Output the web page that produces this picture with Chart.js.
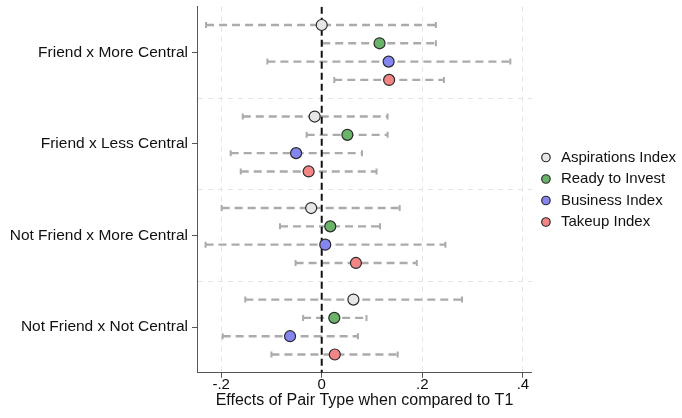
<!DOCTYPE html>
<html>
<head>
<meta charset="utf-8">
<script src="https://cdn.jsdelivr.net/npm/chart.js@4"></script>
<style>
  html, body { margin: 0; padding: 0; background: #fff; }
  #wrap { width: 682px; height: 418px; }
</style>
</head>
<body>
<div id="wrap"><canvas id="chart"></canvas></div>
<script>
  // pair types, top to bottom
  const groups = ['Friend x More Central', 'Friend x Less Central', 'Not Friend x More Central', 'Not Friend x Not Central'];
  const seriesNames = ['Aspirations Index', 'Ready to Invest', 'Business Index', 'Takeup Index'];
  const seriesColors = ['#e6e6e6', '#69b469', '#8585f2', '#f28585'];

  // point estimates per series, one value per group
  const aspirations = [0.000, -0.014, -0.021, 0.063];
  const readyInvest = [0.115, 0.051, 0.017, 0.025];
  const business    = [0.133, -0.051, 0.007, -0.063];
  const takeup      = [0.134, -0.026, 0.068, 0.026];

  // confidence interval lows / highs
  const aspirationsLo = [-0.230, -0.157, -0.199, -0.152];
  const aspirationsHi = [0.227, 0.131, 0.155, 0.279];
  const readyInvestLo = [0.001, -0.030, -0.083, -0.037];
  const readyInvestHi = [0.227, 0.131, 0.116, 0.089];
  const businessLo    = [-0.108, -0.181, -0.231, -0.197];
  const businessHi    = [0.375, 0.080, 0.246, 0.072];
  const takeupLo      = [0.025, -0.161, -0.052, -0.100];
  const takeupHi      = [0.243, 0.109, 0.189, 0.151];

  const xTicks = [-0.2, 0, 0.2, 0.4];

  const estimates = [aspirations, readyInvest, business, takeup];
  const lows = [aspirationsLo, readyInvestLo, businessLo, takeupLo];
  const highs = [aspirationsHi, readyInvestHi, businessHi, takeupHi];

  // each group takes 5 units on the y scale, rows sit at 1..4 inside it
  function rowY(g, s) { return g * 5 + 1 + s; }

  const datasets = [];

  // points
  seriesNames.forEach((name, s) => {
    datasets.push({
      type: 'scatter',
      label: name,
      data: groups.map((g, i) => ({ x: estimates[s][i], y: rowY(i, s) })),
      backgroundColor: seriesColors[s],
      borderColor: '#2a2a2a',
      borderWidth: 1.2,
      pointRadius: 5.5,
      pointHoverRadius: 5.5,
      order: 0
    });
  });

  // error bars: one dashed segment per row, gaps between
  seriesNames.forEach((name, s) => {
    const data = [];
    groups.forEach((g, i) => {
      data.push({ x: lows[s][i], y: rowY(i, s) });
      data.push({ x: highs[s][i], y: rowY(i, s) });
      data.push({ x: null, y: null });
    });
    datasets.push({
      type: 'line',
      label: 'ci',
      data: data,
      borderColor: '#ababab',
      borderWidth: 2.4,
      borderDash: [8, 5],
      pointStyle: 'line',
      rotation: 90,
      pointRadius: 3,
      pointBorderWidth: 2,
      pointBorderColor: '#ababab',
      spanGaps: false,
      order: 2
    });
  });

  // reference line at zero
  datasets.push({
    type: 'line',
    label: 'zero',
    data: [{ x: 0, y: 0 }, { x: 0, y: 20 }],
    borderColor: '#111',
    borderWidth: 2,
    borderDash: [7, 4],
    pointRadius: 0,
    order: 1
  });

  new Chart(document.getElementById('chart'), {
    data: { datasets: datasets },
    options: {
      responsive: true,
      maintainAspectRatio: false,
      animation: false,
      layout: { padding: { left: 10, right: -4, top: 6, bottom: 8 } },
      plugins: {
        tooltip: { enabled: false },
        legend: {
          position: 'right',
          fullSize: false,
          labels: {
            filter: item => seriesNames.includes(item.text),
            usePointStyle: true,
            pointStyle: 'circle',
            boxWidth: 16,
            boxHeight: 6,
            padding: 6.5,
            color: '#111',
            font: { family: 'Liberation Sans', size: 15 }
          }
        }
      },
      scales: {
        x: {
          type: 'linear',
          min: -0.248,
          max: 0.418,
          afterBuildTicks: scale => { scale.ticks = xTicks.map(v => ({ value: v })); },
          ticks: {
            autoSkip: false,
            maxRotation: 0,
            color: '#111',
            padding: -2,
            font: { family: 'Liberation Sans', size: 15 },
            callback: v => v === 0 ? '0' : (v < 0 ? '-' : '') + String(Math.abs(v)).replace(/^0/, '')
          },
          grid: {
            color: ctx => ctx.tick && ctx.tick.value === 0 ? 'transparent' : '#e4e4e4',
            tickColor: '#555',
            tickLength: 5,
            lineWidth: 1
          },
          border: { color: '#555', width: 1, dash: [5, 5] },
          title: {
            display: true,
            text: 'Effects of Pair Type when compared to T1',
            color: '#111',
            padding: { top: -1, bottom: 0 },
            font: { family: 'Liberation Sans', size: 16 }
          }
        },
        y: {
          type: 'linear',
          min: 0,
          max: 20,
          reverse: true,
          afterBuildTicks: scale => {
            const t = [];
            for (let v = 2.5; v <= 17.5; v += 2.5) t.push({ value: v });
            scale.ticks = t;
          },
          // keep the long group names: the default layout caps the axis at a quarter of the width
          afterFit: scale => {
            scale.paddingTop = 0;
            scale.paddingBottom = 0;
            scale.width = 187;
          },
          ticks: {
            autoSkip: false,
            color: '#111',
            padding: 4,
            font: { family: 'Liberation Sans', size: 15.5 },
            callback: v => (v % 5 === 2.5) ? groups[(v - 2.5) / 5] : ''
          },
          grid: {
            color: ctx => {
              const v = ctx.tick && ctx.tick.value;
              return (v === 5 || v === 10 || v === 15) ? '#e4e4e4' : 'transparent';
            },
            tickColor: ctx => (ctx.tick && ctx.tick.value % 5 === 2.5) ? '#555' : 'transparent',
            tickLength: 5,
            lineWidth: 1
          },
          border: { color: '#555', width: 1, dash: [5, 5] }
        }
      }
    }
  });
</script>
</body>
</html>
